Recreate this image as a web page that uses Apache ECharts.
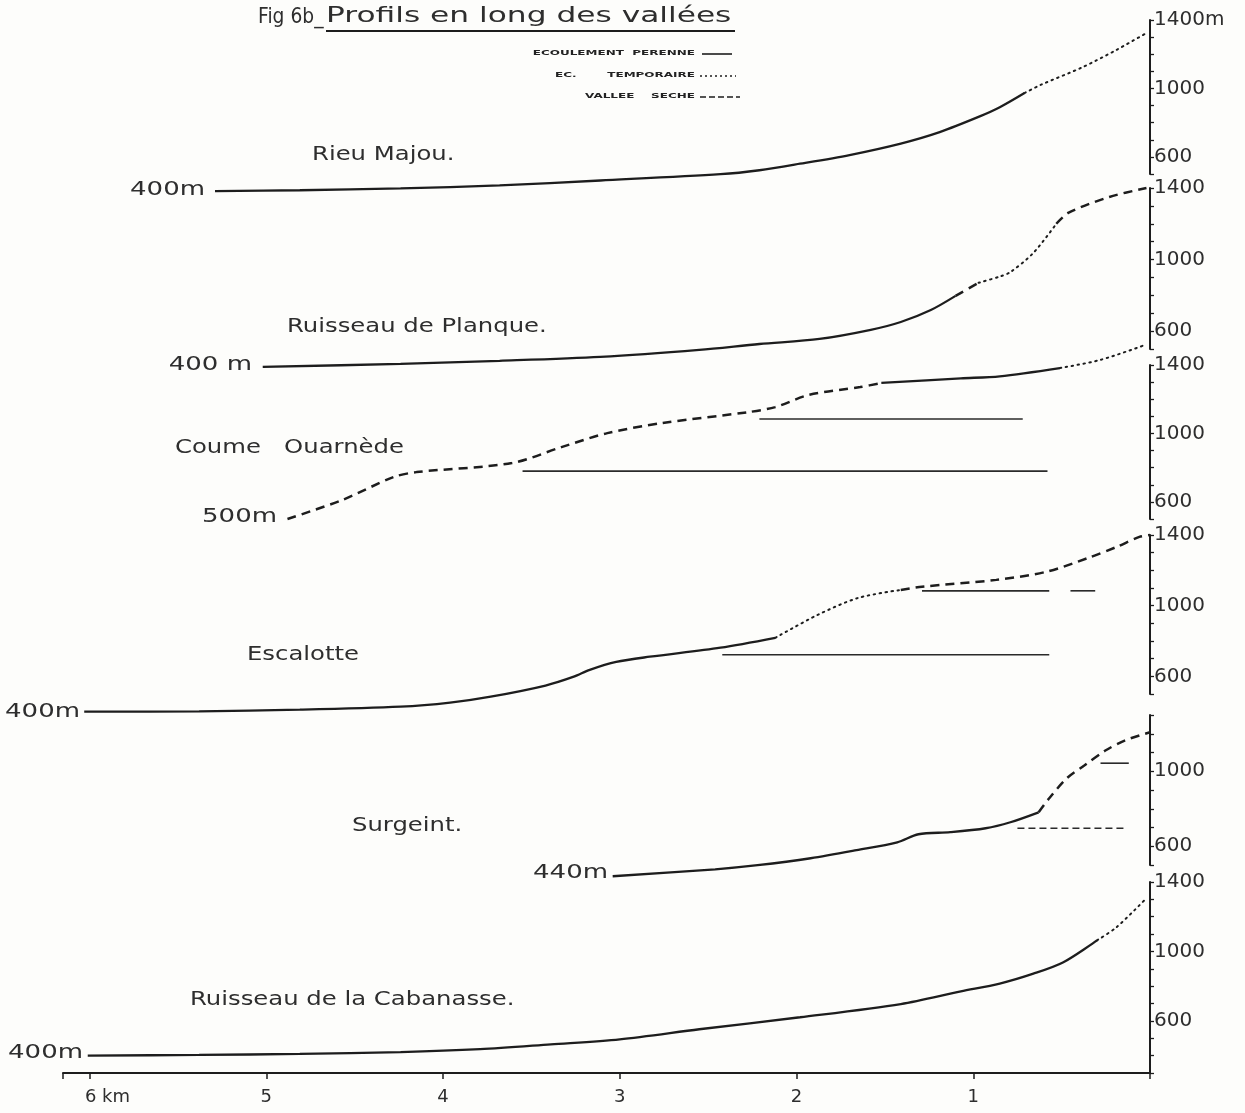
<!DOCTYPE html>
<html>
<head>
<meta charset="utf-8">
<script src="https://cdn.jsdelivr.net/npm/echarts@6/dist/echarts.min.js"></script>
<style>
html,body{margin:0;padding:0;background:#fdfdfb;}
#chart{width:1245px;height:1113px;}
</style>
</head>
<body>
<div id="chart"></div>
<script>
// ---------- data (km from source, elevation m) ----------
const kmTicks = [6, 5, 4, 3, 2, 1];
const elevLabels = [600, 1000, 1400];

// 1 Rieu Majou
const rieuPerenne = [[5.29,400],[4.81,405],[4.24,416],[3.68,433],[3.11,462],[2.43,499],[2.21,522],[1.98,560],[1.70,611],[1.41,678],[1.19,745],[0.96,838],[0.85,890],[0.71,973]];
const rieuTemporaire = [[0.71,973],[0.62,1020],[0.38,1125],[0.19,1225],[0.02,1324]];

// 2 Ruisseau de Planque
const planquePerenne = [[5.02,400],[4.24,417],[3.68,434],[3.11,456],[2.55,495],[2.21,528],[1.87,556],[1.58,607],[1.41,651],[1.24,718],[1.10,797]];
const planqueSeche1 = [[1.10,797],[0.97,870]];
const planqueTemporaire = [[0.97,870],[0.85,905],[0.79,930],[0.66,1037],[0.53,1200]];
const planqueSeche2 = [[0.53,1200],[0.46,1262],[0.23,1350],[0.02,1400]];

// 3 Coume Ouarnède
const coumeSeche = [[4.88,500],[4.57,611],[4.28,745],[4.15,774],[3.61,827],[3.33,920],[3.07,1002],[2.76,1061],[2.27,1125],[2.12,1154],[1.93,1225],[1.64,1271],[1.52,1295]];
const coumePerenne = [[1.52,1295],[1.07,1322],[0.85,1334],[0.51,1382]];
const coumeTemporaire = [[0.51,1382],[0.28,1430],[0.02,1520]];
const coumeNiveauHaut = [[2.21,1084],[0.72,1084]];
const coumeNiveauBas = [[3.55,780],[0.58,780]];

// 4 Escalotte
const escalottePerenne = [[6.03,400],[5.38,402],[4.81,411],[4.24,428],[3.96,451],[3.73,485],[3.42,548],[3.26,598],[3.17,637],[3.02,682],[2.83,711],[2.43,762],[2.12,818]];
const escalotteTemporaire = [[2.12,818],[1.88,948],[1.65,1044],[1.41,1089]];
const escalotteSeche = [[1.41,1089],[1.29,1107],[0.87,1146],[0.59,1191],[0.35,1270],[0.19,1332],[0.06,1389],[0.0,1400]];
const escalotteNiveauHautA = [[1.29,1084],[0.57,1084]];
const escalotteNiveauHautB = [[0.45,1084],[0.31,1084]];
const escalotteNiveauBas = [[2.42,722],[0.57,722]];

// 5 Surgeint
const surgeintPerenne = [[3.04,440],[2.46,477],[2.22,499],[1.92,536],[1.66,579],[1.43,621],[1.31,664],[1.13,675],[0.93,696],[0.79,728],[0.63,781]];
const surgeintSeche = [[0.63,781],[0.57,856],[0.47,963],[0.37,1032],[0.25,1112],[0.14,1165],[0.0,1208]];
const surgeintNiveauHaut = [[0.28,1043],[0.12,1043]];
const surgeintNiveauBas = [[0.75,696],[0.14,696]];

// 6 Ruisseau de la Cabanasse
const cabanassePerenne = [[6.01,400],[5.38,404],[4.81,410],[4.24,420],[3.79,437],[3.39,465],[3.00,494],[2.55,552],[1.98,621],[1.41,697],[1.07,770],[0.85,815],[0.66,872],[0.49,938],[0.30,1064]];
const cabanasseTemporaire = [[0.30,1064],[0.19,1139],[0.02,1307]];

// ---------- layout ----------
const INK = '#1d1d1d';
const TXT = '#2e2e2e';
const FONT = 'DejaVu Sans';
const panels = [
  {top: 20,  height: 154, min: 500, max: 1400, unit: true},
  {top: 188, height: 161, min: 500, max: 1400},
  {top: 365, height: 154, min: 500, max: 1400},
  {top: 535, height: 159, min: 500, max: 1400},
  {top: 715, height: 150, min: 500, max: 1300},
  {top: 882, height: 191, min: 300, max: 1400}
];

const grids = panels.map(p => ({left: 63, right: 95, top: p.top, height: p.height}));
const xAxes = panels.map((p, i) => ({
  type: 'value', gridIndex: i, min: 0, max: 6.15, interval: 1, inverse: true,
  show: i === 5,
  axisLine: {show: true, lineStyle: {color: INK, width: 2}},
  axisTick: {show: true, length: 6, lineStyle: {color: INK, width: 1.5}},
  splitLine: {show: false},
  axisLabel: {
    color: TXT, fontFamily: FONT, fontSize: 18, margin: 15,
    formatter: v => {
      if (v === 6) return '{k|6 km}';
      if (kmTicks.indexOf(v) >= 0) return String(v);
      return '';
    },
    rich: {k: {padding: [0, 0, 0, 36], fontSize: 18, color: TXT, fontFamily: FONT}}
  }
}));
const yAxes = panels.map((p, i) => ({
  type: 'value', gridIndex: i, position: 'right', min: p.min, max: p.max, interval: 100,
  axisLine: {show: true, lineStyle: {color: INK, width: 2}},
  axisTick: {show: true, length: 4, lineStyle: {color: INK, width: 1.3}},
  splitLine: {show: false},
  axisLabel: {
    color: TXT, fontFamily: FONT, fontSize: 20, margin: 4,
    formatter: v => elevLabels.indexOf(v) >= 0 ? (p.unit && v === 1400 ? v + 'm' : String(v)) : ''
  }
}));

const SOLID = {color: INK, width: 2.3, type: 'solid'};
const DOTTED = {color: INK, width: 2, type: [1.5, 4.5], cap: 'round'};
const DASHED = {color: INK, width: 2.5, type: [9, 6]};
const LEVEL = {color: '#2a2a2a', width: 1.6, type: 'solid'};
const LEVELDASH = {color: '#2a2a2a', width: 1.5, type: [7, 4]};

function seg(data, panel, style, smooth) {
  return {
    type: 'line', xAxisIndex: panel, yAxisIndex: panel, data: data,
    showSymbol: false, symbol: 'none', clip: false, silent: true,
    smooth: smooth === undefined ? 0.3 : smooth,
    lineStyle: style
  };
}

const series = [
  seg(rieuPerenne, 0, SOLID), seg(rieuTemporaire, 0, DOTTED),
  seg(planquePerenne, 1, SOLID), seg(planqueSeche1, 1, DASHED), seg(planqueTemporaire, 1, DOTTED), seg(planqueSeche2, 1, DASHED),
  seg(coumeSeche, 2, DASHED), seg(coumePerenne, 2, SOLID), seg(coumeTemporaire, 2, DOTTED),
  seg(coumeNiveauHaut, 2, LEVEL, false), seg(coumeNiveauBas, 2, LEVEL, false),
  seg(escalottePerenne, 3, SOLID), seg(escalotteTemporaire, 3, DOTTED), seg(escalotteSeche, 3, DASHED),
  seg(escalotteNiveauHautA, 3, LEVEL, false), seg(escalotteNiveauHautB, 3, LEVEL, false), seg(escalotteNiveauBas, 3, LEVEL, false),
  seg(surgeintPerenne, 4, SOLID), seg(surgeintSeche, 4, DASHED),
  seg(surgeintNiveauHaut, 4, LEVEL, false), seg(surgeintNiveauBas, 4, LEVELDASH, false),
  seg(cabanassePerenne, 5, SOLID), seg(cabanasseTemporaire, 5, DOTTED)
];

function txt(x, y, text, size, align, sx) {
  return {
    type: 'text', x: x, y: y, scaleX: sx || 1, silent: true,
    style: {text: text, fill: TXT, font: size + 'px "' + FONT + '"', align: align || 'left', verticalAlign: 'middle'}
  };
}
function legTxt(x, y, text, align) {
  return {
    type: 'text', x: x, y: y, scaleY: 0.62, silent: true,
    style: {text: text, fill: '#222', font: 'bold 12px "' + FONT + '"', align: align || 'right', verticalAlign: 'middle'}
  };
}
function gline(x1, y1, x2, y2, w, dash) {
  return {type: 'line', silent: true, shape: {x1: x1, y1: y1, x2: x2, y2: y2},
    style: {stroke: INK, lineWidth: w, lineDash: dash || null}};
}

const NAME_SX = 1.28;
const START_SX = 1.3;
const graphics = [
  txt(258, 17, 'Fig 6b_', 22, 'left', 0.85),
  txt(326, 16, 'Profils en long des vallées', 22, 'left', 1.42),
  gline(326, 31, 735, 31, 2),
  legTxt(695, 53, 'ECOULEMENT  PERENNE'),
  legTxt(555, 75, 'EC.', 'left'),
  legTxt(695, 75, 'TEMPORAIRE'),
  legTxt(695, 96, 'VALLEE    SECHE'),
  gline(702, 54, 732, 54, 1.6),
  gline(700, 76, 736, 76, 1.6, [2, 3]),
  gline(700, 97, 740, 97, 1.6, [6, 3]),
  txt(312, 155, 'Rieu Majou.', 19, 'left', NAME_SX),
  txt(287, 327, 'Ruisseau de Planque.', 19, 'left', NAME_SX),
  txt(175, 448, 'Coume   Ouarnède', 19, 'left', NAME_SX),
  txt(247, 655, 'Escalotte', 19, 'left', NAME_SX),
  txt(352, 826, 'Surgeint.', 19, 'left', NAME_SX),
  txt(190, 1000, 'Ruisseau de la Cabanasse.', 19, 'left', NAME_SX),
  txt(205, 190, '400m', 20, 'right', START_SX),
  txt(252, 365, '400 m', 20, 'right', START_SX),
  txt(277, 517, '500m', 20, 'right', START_SX),
  txt(80, 712, '400m', 20, 'right', START_SX),
  txt(608, 873, '440m', 20, 'right', START_SX),
  txt(83, 1053, '400m', 20, 'right', START_SX)
];

const chart = echarts.init(document.getElementById('chart'), null, {renderer: 'canvas'});
chart.setOption({
  backgroundColor: '#fdfdfb',
  animation: false,
  grid: grids,
  xAxis: xAxes,
  yAxis: yAxes,
  series: series,
  graphic: graphics
});
</script>
</body>
</html>
